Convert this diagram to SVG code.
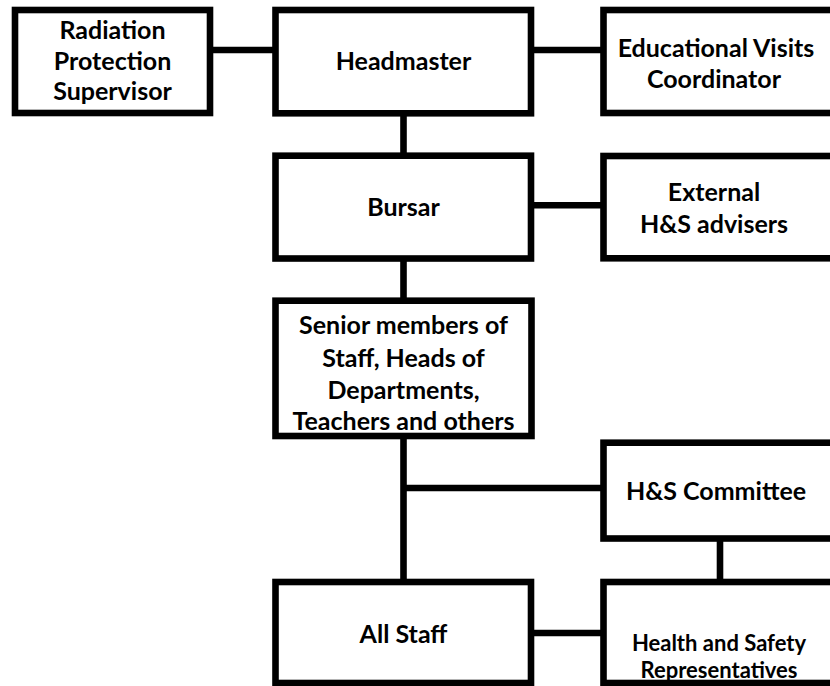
<svg xmlns="http://www.w3.org/2000/svg" width="830" height="686" viewBox="0 0 830 686">
<style>
.box{fill:#fff;stroke:#000;stroke-width:6.6}
.c{stroke:#000;stroke-width:6.6;fill:none}
text{font-family:Lato,"Liberation Sans",sans-serif;font-weight:bold;font-size:25px;fill:#000;text-anchor:middle}
.s{font-size:22px}
</style>
<rect width="830" height="686" fill="#fff"/>
<g id="connectors">
<path class="c" d="M210,50H275.5M531,50H603.5M403.5,113.3V155.7M531,205.3H603.5M403.5,258.5V300.7M403.5,436V582M403.5,488H603.5M720,538.5V582M531,633H603.5"/>
</g>
<g id="radiation">
<rect class="box" x="15" y="10" width="195" height="103"/>
<text x="112.5" y="39">Radiation</text>
<text x="112.5" y="69.5">Protection</text>
<text x="112.5" y="99.5">Supervisor</text>
</g>
<g id="headmaster">
<rect class="box" x="275.5" y="10" width="255.5" height="103.3"/>
<text x="403.5" y="70">Headmaster</text>
</g>
<g id="visits">
<rect class="box" x="603.5" y="10" width="240" height="103"/>
<text x="716" y="57">Educational Visits</text>
<text x="714" y="88">Coordinator</text>
</g>
<g id="bursar">
<rect class="box" x="275.5" y="155.7" width="255.5" height="102.8"/>
<text x="403.5" y="216">Bursar</text>
</g>
<g id="external">
<rect class="box" x="603.5" y="156" width="240" height="102.3"/>
<text x="714" y="201">External</text>
<text x="714" y="233">H&amp;S advisers</text>
</g>
<g id="senior">
<rect class="box" x="275.5" y="300.7" width="256" height="135.3"/>
<text x="403.5" y="334">Senior members of</text>
<text x="403.5" y="366.5">Staff, Heads of</text>
<text x="403.5" y="398.5">Departments,</text>
<text x="403.5" y="430">Teachers and others</text>
</g>
<g id="committee">
<rect class="box" x="603.5" y="442.7" width="240" height="95.8"/>
<text x="716" y="500">H&amp;S Committee</text>
</g>
<g id="allstaff">
<rect class="box" x="275.5" y="582" width="255.5" height="101"/>
<text x="403.5" y="643">All Staff</text>
</g>
<g id="reps">
<rect class="box" x="603.5" y="582" width="240" height="101"/>
<text class="s" x="719" y="651">Health and Safety</text>
<text class="s" x="719" y="677.5">Representatives</text>
</g>
</svg>
